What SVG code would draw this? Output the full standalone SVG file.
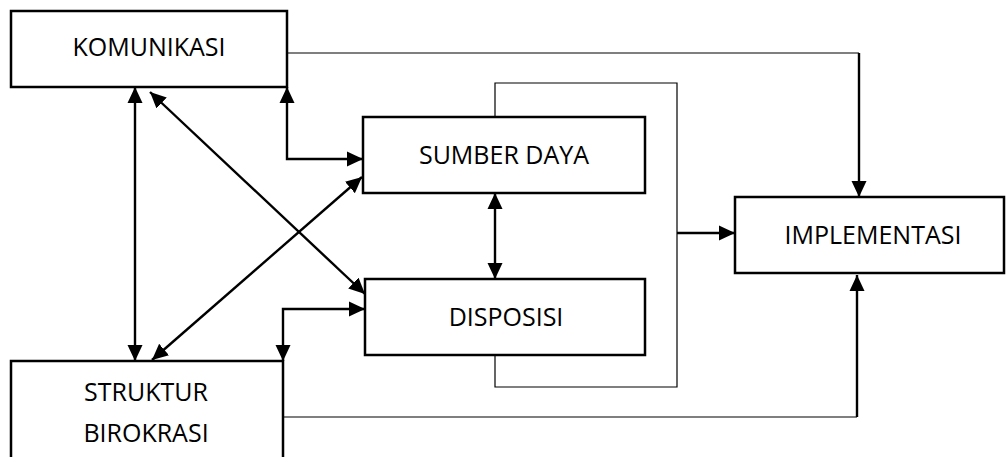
<svg xmlns="http://www.w3.org/2000/svg" width="1006" height="457" viewBox="0 0 1006 457">
<style>
.box{fill:#fff;stroke:#000;stroke-width:2.5}
.lbl{font-family:"Open Sans","Liberation Sans",sans-serif;font-size:25px;fill:#000;text-anchor:middle}
.c{fill:none;stroke:#000;stroke-width:2.4}
.t{fill:none;stroke:#000;stroke-width:1.2}
</style>
<defs>
<marker id="ah" markerUnits="userSpaceOnUse" markerWidth="17" markerHeight="17" viewBox="0 0 17 17" refX="16" refY="8.5" orient="auto-start-reverse">
<path d="M0,1 L16,8.5 L0,16 Z" fill="#000"/>
</marker>
</defs>
<g id="connectors">
<polyline class="t" points="287,53 859,53"/>
<line class="c" x1="859" y1="53" x2="859" y2="197" marker-end="url(#ah)"/>
<polyline class="c" points="287,87 287,159 363,159" marker-start="url(#ah)" marker-end="url(#ah)"/>
<line class="c" x1="135" y1="87" x2="135" y2="361" marker-start="url(#ah)" marker-end="url(#ah)"/>
<line class="c" x1="150" y1="92" x2="365" y2="294" marker-start="url(#ah)" marker-end="url(#ah)"/>
<line class="c" x1="152" y1="360" x2="362" y2="177" marker-start="url(#ah)" marker-end="url(#ah)"/>
<polyline class="c" points="283,361 283,309 365,309" marker-start="url(#ah)" marker-end="url(#ah)"/>
<polyline class="t" points="283,417 857,417"/>
<line class="c" x1="857" y1="417" x2="857" y2="275" marker-end="url(#ah)"/>
<polyline class="t" points="495,117 495,83 677,83 677,387 495,387 495,355"/>
<line class="c" x1="677" y1="233" x2="735" y2="233" marker-end="url(#ah)"/>
<line class="c" x1="495" y1="193" x2="495" y2="279" marker-start="url(#ah)" marker-end="url(#ah)"/>
</g>
<g id="komunikasi">
<rect class="box" x="11" y="11" width="276" height="76"/>
<text class="lbl" x="149" y="56">KOMUNIKASI</text>
</g>
<g id="sumber-daya">
<rect class="box" x="363" y="117" width="282" height="76"/>
<text class="lbl" x="504" y="164">SUMBER DAYA</text>
</g>
<g id="disposisi">
<rect class="box" x="365" y="279" width="280" height="76"/>
<text class="lbl" x="506" y="326">DISPOSISI</text>
</g>
<g id="implementasi">
<rect class="box" x="735" y="197" width="269" height="76"/>
<text class="lbl" x="873" y="244">IMPLEMENTASI</text>
</g>
<g id="struktur-birokrasi">
<rect class="box" x="11" y="361" width="272" height="110"/>
<text class="lbl" x="146" y="401">STRUKTUR</text>
<text class="lbl" x="146" y="442">BIROKRASI</text>
</g>
</svg>
